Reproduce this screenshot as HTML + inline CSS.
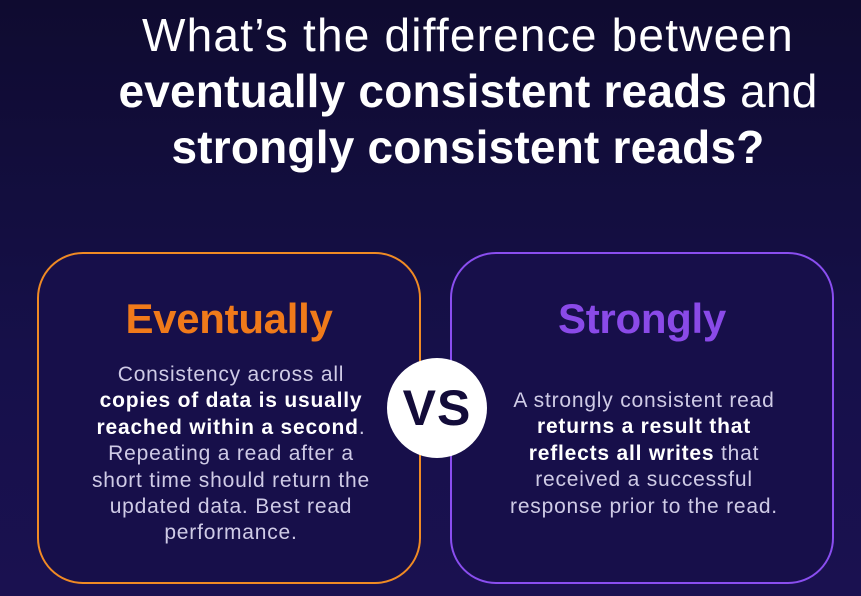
<!DOCTYPE html>
<html><head><style>
html,body{margin:0;padding:0}
body{width:861px;height:596px;overflow:hidden;background:linear-gradient(180deg,#0f0b30 0%,#16104a 60%,#1a1150 100%);font-family:"Liberation Sans",sans-serif;position:relative;color:#fff}
.t{position:absolute;left:60px;width:816px;text-align:center;font-size:46px;line-height:56px;white-space:nowrap}
.t1{letter-spacing:1.2px}
.t2{letter-spacing:0.2px}
.box{position:absolute;top:252px;width:384px;height:332px;border-radius:46px;border:2.5px solid;box-sizing:border-box;background:#170f4a}
.h{position:absolute;left:0;width:100%;text-align:center;font-weight:bold;font-size:42px;letter-spacing:-0.3px}
.b{position:absolute;left:-20px;width:424px;text-align:center;font-size:21px;line-height:26.4px;color:#cfcbe6;letter-spacing:0.8px;white-space:nowrap}
.b b{color:#fff}
.vs{position:absolute;left:387px;top:358px;width:100px;height:100px;border-radius:50%;background:#fff;color:#130c3a;font-weight:bold;font-size:50px;line-height:100px;text-align:center;letter-spacing:1px}
</style></head><body>
<div class="t t1" style="top:7px">What’s the difference between</div>
<div class="t t2" style="top:63px"><b>eventually consistent reads</b> and</div>
<div class="t t2" style="top:119px"><b>strongly consistent reads?</b></div>
<div class="box" style="left:37px;border-color:#f08a24">
 <div class="h" style="top:41px;color:#f07a1a">Eventually</div>
 <div class="b" style="top:108px">Consistency across all<br><b>copies of data is usually<br>reached within a second</b>.<br>Repeating a read after a<br>short time should return the<br>updated data. Best read<br>performance.</div>
</div>
<div class="box" style="left:450px;border-color:#8a4ef0">
 <div class="h" style="top:41px;color:#8a4ae8">Strongly</div>
 <div class="b" style="top:134px">A strongly consistent read<br><b>returns a result that<br>reflects all writes</b> that<br>received a successful<br>response prior to the read.</div>
</div>
<div class="vs">VS</div>
</body></html>
